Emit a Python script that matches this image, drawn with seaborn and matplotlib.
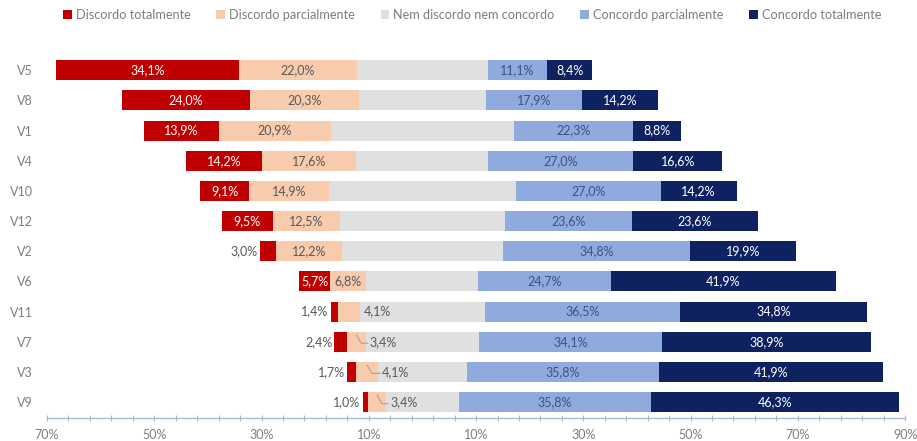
import numpy as np
import pandas as pd
import matplotlib
matplotlib.use("Agg")
import matplotlib.pyplot as plt
from matplotlib.patches import Patch
import seaborn as sns

# Survey items (top to bottom) and share of answers per level, in %
items = ["V5", "V8", "V1", "V4", "V10", "V12", "V2", "V6", "V11", "V7", "V3", "V9"]
disc_total = [34.1, 24.0, 13.9, 14.2, 9.1, 9.5, 3.0, 5.7, 1.4, 2.4, 1.7, 1.0]
disc_parc = [22.0, 20.3, 20.9, 17.6, 14.9, 12.5, 12.2, 6.8, 4.1, 3.4, 4.1, 3.4]
neutro = [24.4, 23.6, 34.1, 24.6, 34.8, 30.8, 30.1, 20.9, 23.2, 21.2, 16.5, 13.5]
conc_parc = [11.1, 17.9, 22.3, 27.0, 27.0, 23.6, 34.8, 24.7, 36.5, 34.1, 35.8, 35.8]
conc_total = [8.4, 14.2, 8.8, 16.6, 14.2, 23.6, 19.9, 41.9, 34.8, 38.9, 41.9, 46.3]

legend_labels = ["Discordo totalmente", "Discordo parcialmente",
                 "Nem discordo nem concordo", "Concordo parcialmente",
                 "Concordo totalmente"]
x_ticks = [-70, -50, -30, -10, 10, 30, 50, 70, 90]
# items whose small "discordo parcialmente" label sits outside with a leader line
leader_items = ["V7", "V3", "V9"]

colors = ["#C00000", "#F8CBAD", "#E0E0E0", "#8FAADC", "#0E2160"]

sns.set_theme(style="white")
plt.rcParams["font.family"] = ["Lato", "DejaVu Sans"]

df = pd.DataFrame({
    "item": items,
    "dt": disc_total, "dp": disc_parc, "nn": neutro,
    "cp": conc_parc, "ct": conc_total,
})
half = df["nn"] / 2
# cumulative extents of each level, centred on the neutral block
df["r_gray"] = half
df["r_cp"] = half + df["cp"]
df["r_ct"] = half + df["cp"] + df["ct"]
df["l_gray"] = -half
df["l_dp"] = -(half + df["dp"])
df["l_dt"] = -(half + df["dp"] + df["dt"])

fig = plt.figure(figsize=(9.17, 4.41), dpi=100)
ax = fig.add_axes([0.0513, 0.052, 0.9357, 0.823])

bw = 0.66
layers = [("r_ct", colors[4]), ("r_cp", colors[3]), ("r_gray", colors[2]),
          ("l_dt", colors[0]), ("l_dp", colors[1]), ("l_gray", colors[2])]
for col, c in layers:
    sns.barplot(data=df, x=col, y="item", order=items, orient="h",
                color=c, width=bw, saturation=1, ax=ax, linewidth=0,
                errorbar=None)

fmt = lambda v: f"{v:.1f}%".replace(".", ",")
fs = 9
dark = "#595959"
blue_txt = "#3C5285"

for i, r in df.iterrows():
    # strongly disagree
    mid = (r["l_dt"] + r["l_dp"]) / 2
    if r["dt"] >= 5:
        ax.text(mid, i, fmt(r["dt"]), ha="center", va="center",
                color="white", fontsize=fs)
    else:
        ax.text(r["l_dt"] - 0.4, i, fmt(r["dt"]), ha="right", va="center",
                color=dark, fontsize=fs)
    # partly disagree
    if r["dp"] >= 5:
        ax.text((r["l_dp"] + r["l_gray"]) / 2, i, fmt(r["dp"]), ha="center",
                va="center", color=dark, fontsize=fs)
    elif r["item"] not in leader_items:
        ax.text(r["l_gray"] + 0.6, i, fmt(r["dp"]), ha="left",
                va="center", color=dark, fontsize=fs)
    else:
        x0 = (r["l_dp"] + r["l_gray"]) / 2
        x1 = r["l_gray"] + 0.4
        ax.plot([x0, x0 + 0.9, x1], [i - 0.22, i + 0.05, i + 0.05],
                color="#B0A090", lw=0.8)
        ax.text(x1 + 0.3, i, fmt(r["dp"]), ha="left", va="center",
                color=dark, fontsize=fs)
    # partly agree
    ax.text((r["r_gray"] + r["r_cp"]) / 2, i, fmt(r["cp"]), ha="center",
            va="center", color=blue_txt, fontsize=fs)
    # strongly agree
    ax.text((r["r_cp"] + r["r_ct"]) / 2, i, fmt(r["ct"]), ha="center",
            va="center", color="white", fontsize=fs)

ax.set_xlim(-70, 90)
ax.set_ylim(len(items) - 1 + 0.53, -0.5)
ax.set_xlabel("")
ax.set_ylabel("")
ax.set_xticks(x_ticks)
ax.set_xticklabels([f"{abs(t)}%" for t in x_ticks])
ax.set_xticks(np.arange(-70, 91, 4), minor=True)
ax.tick_params(axis="x", which="both", direction="inout", length=4,
               width=0.8, color="#A9BBD0", labelsize=9, labelcolor="#7F7F7F",
               pad=6, bottom=True)
ax.tick_params(axis="y", length=0, labelsize=9, labelcolor="#7F7F7F", pad=10)
for s in ["top", "right", "left"]:
    ax.spines[s].set_visible(False)
ax.spines["bottom"].set_color("#A9BBD0")
ax.spines["bottom"].set_linewidth(1)

handles = [Patch(facecolor=c, edgecolor="none") for c in colors]
fig.legend(handles, legend_labels, loc="upper center", ncol=5,
           bbox_to_anchor=(0.515, 1.005), frameon=False, fontsize=9.2,
           labelcolor="#7F7F7F", handlelength=0.7, handleheight=0.7,
           handletextpad=0.3, columnspacing=2.0)

fig.savefig("out.png", dpi=100, facecolor="white")
